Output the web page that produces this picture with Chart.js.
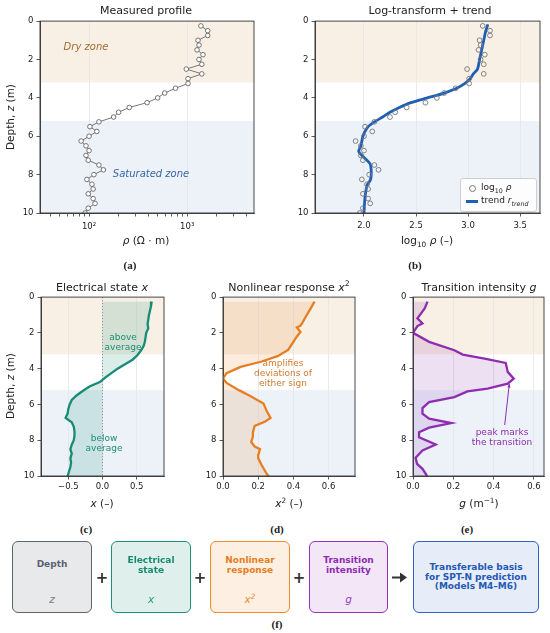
<!DOCTYPE html>
<html>
<head>
<meta charset="utf-8">
<script src="https://cdn.jsdelivr.net/npm/chart.js@4"></script>
<style>
html, body { margin: 0; padding: 0; background: #fff; overflow: hidden; }
#fig { position: relative; width: 550px; height: 633px; font-family: 'DejaVu Sans', sans-serif; color: #222; }
canvas { position: absolute; }
.t { position: absolute; transform: translate(-50%, -50%); white-space: nowrap; text-align: center; }
.title { font-size: 11px; }
.ax { font-size: 10.5px; }
.rot { transform: translate(-50%, -50%) rotate(-90deg); }
.sub { font-family: 'Liberation Serif', serif; font-weight: bold; font-size: 11px; }
.note { font-size: 9px; line-height: 10px; }
sub, sup { font-size: 70%; line-height: 0; }
.box { position: absolute; top: 541px; height: 72px; box-sizing: border-box; border: 1.5px solid; border-radius: 6px; }
.box .lbl { position: absolute; left: 0; right: 0; top: 23px; transform: translateY(-50%); text-align: center; font-weight: bold; font-size: 9px; line-height: 9.5px; }
.box .sym { position: absolute; left: 0; right: 0; top: 57px; transform: translateY(-50%); text-align: center; font-style: italic; font-size: 10.5px; }
.plus { position: absolute; transform: translate(-50%, -50%); font-weight: bold; font-size: 15px; color: #333; }
#legB { position: absolute; left: 460px; top: 178px; width: 77px; height: 34px; box-sizing: border-box; border: 1px solid #cfcfcf; border-radius: 3px; background: rgba(255,255,255,0.85); font-size: 9px; }
</style>
</head>
<body>
<div id="fig">
  <canvas id="cA" width="252" height="222" style="left:10px;top:13px"></canvas>
  <canvas id="cB" width="263" height="222" style="left:285px;top:13px"></canvas>
  <canvas id="cC" width="161" height="209" style="left:11px;top:289px"></canvas>
  <canvas id="cD" width="170" height="209" style="left:193px;top:289px"></canvas>
  <canvas id="cE" width="169" height="209" style="left:383px;top:289px"></canvas>

  <div class="t title" style="left:146px;top:10px">Measured profile</div>
  <div class="t title" style="left:430px;top:10px">Log-transform + trend</div>
  <div class="t title" style="left:102px;top:287px">Electrical state <i>x</i></div>
  <div class="t title" style="left:289px;top:287px">Nonlinear response <i>x</i><sup>2</sup></div>
  <div class="t title" style="left:479px;top:287px">Transition intensity <i>g</i></div>

  <div class="t ax" style="left:146px;top:240px"><i>ρ</i> (Ω · m)</div>
  <div class="t ax" style="left:427px;top:240px">log<sub>10</sub> <i>ρ</i> (–)</div>
  <div class="t ax" style="left:102px;top:503px"><i>x</i> (–)</div>
  <div class="t ax" style="left:289px;top:503px"><i>x</i><sup>2</sup> (–)</div>
  <div class="t ax" style="left:479px;top:503px"><i>g</i> (m<sup>−1</sup>)</div>
  <div class="t ax rot" style="left:10px;top:117px">Depth, <i>z</i> (m)</div>
  <div class="t ax rot" style="left:10px;top:386px">Depth, <i>z</i> (m)</div>

  <div class="t sub" style="left:130px;top:265px">(a)</div>
  <div class="t sub" style="left:415px;top:265px">(b)</div>
  <div class="t sub" style="left:86px;top:529px">(c)</div>
  <div class="t sub" style="left:277px;top:529px">(d)</div>
  <div class="t sub" style="left:467px;top:529px">(e)</div>
  <div class="t sub" style="left:277px;top:624px">(f)</div>

  <div class="t" style="left:86px;top:46px;font-size:10px;font-style:italic;color:#a26b2c">Dry zone</div>
  <div class="t" style="left:151px;top:173px;font-size:10px;font-style:italic;color:#3766a6">Saturated zone</div>
  <div class="t note" style="left:123px;top:342px;color:#1a8f78">above<br>average</div>
  <div class="t note" style="left:104px;top:443px;color:#1a8f78">below<br>average</div>
  <div class="t note" style="left:283px;top:373px;color:#d07a2c">amplifies<br>deviations of<br>either sign</div>
  <div class="t note" style="left:502px;top:437px;color:#8e2db0">peak marks<br>the transition</div>

  <div id="legB">
    <div style="position:absolute;left:8px;top:6px;width:5px;height:5px;border:1px solid #777;border-radius:50%"></div>
    <div style="position:absolute;left:20px;top:3px">log<sub>10</sub> <i>ρ</i></div>
    <div style="position:absolute;left:5px;top:21px;width:12px;height:3px;background:#1f5fb5"></div>
    <div style="position:absolute;left:20px;top:16px">trend <i>r<sub>trend</sub></i></div>
  </div>

  <div class="box" style="left:12px;width:80px;border-color:#5d646d;background:#e8e9eb">
    <div class="lbl" style="color:#5a6270">Depth</div>
    <div class="sym" style="color:#7a808a">z</div>
  </div>
  <div class="plus" style="left:102px;top:578px">+</div>
  <div class="box" style="left:111px;width:80px;border-color:#1b9078;background:#dff0ec">
    <div class="lbl" style="color:#178a72">Electrical<br>state</div>
    <div class="sym" style="color:#2a9a82">x</div>
  </div>
  <div class="plus" style="left:200px;top:578px">+</div>
  <div class="box" style="left:210px;width:80px;border-color:#ef8b2c;background:#fdf0e3">
    <div class="lbl" style="color:#e67e22">Nonlinear<br>response</div>
    <div class="sym" style="color:#ef8b2c">x<sup>2</sup></div>
  </div>
  <div class="plus" style="left:299px;top:578px">+</div>
  <div class="box" style="left:309px;width:79px;border-color:#9234b8;background:#f2e6f7">
    <div class="lbl" style="color:#8e2db0">Transition<br>intensity</div>
    <div class="sym" style="color:#9a45bd">g</div>
  </div>
  <svg style="position:absolute;left:392px;top:571px" width="16" height="13">
    <line x1="0" y1="6.5" x2="9" y2="6.5" stroke="#333" stroke-width="2"/>
    <polygon points="8,1.5 15,6.5 8,11.5" fill="#333"/>
  </svg>
  <div class="box" style="left:413px;width:126px;border-color:#2c62c0;background:#e6edf8">
    <div class="lbl" style="top:35px;color:#2459b5">Transferable basis<br>for SPT-N prediction<br>(Models M4–M6)</div>
  </div>
</div>

<script>
// measured profile, every 0.25 m
const depthPts = [0.25, 0.5, 0.75, 1, 1.25, 1.5, 1.75, 2, 2.25, 2.5, 2.75, 3, 3.25, 3.5, 3.75, 4, 4.25, 4.5, 4.75, 5,
                  5.25, 5.5, 5.75, 6, 6.25, 6.5, 6.75, 7, 7.25, 7.5, 7.75, 8, 8.25, 8.5, 8.75, 9, 9.25, 9.5, 9.75, 10];
const rhoMeas = [1380, 1620, 1620, 1290, 1320, 1260, 1450, 1320, 1410, 980, 1410, 1020, 1020, 760, 590, 500, 390, 257, 200, 178,
                 126, 102, 120, 100, 83, 93, 100, 93, 98, 126, 140, 112, 95, 107, 110, 98, 110, 115, 98, 91];
const logRho = [3.14, 3.21, 3.21, 3.11, 3.12, 3.10, 3.16, 3.12, 3.15, 2.99, 3.15, 3.01, 3.01, 2.88, 2.77, 2.70, 2.59, 2.41, 2.30, 2.25,
                2.10, 2.01, 2.08, 2.00, 1.92, 1.97, 2.00, 1.97, 1.99, 2.10, 2.14, 2.05, 1.98, 2.03, 2.04, 1.99, 2.04, 2.06, 1.99, 1.96];

// smoothed trend
const depthTrend = [0.17, 0.5, 1, 1.5, 2, 2.5, 2.75, 3, 3.25, 3.5, 3.75, 4, 4.25, 4.5, 4.75, 5, 5.25, 5.5, 5.75, 6,
                    6.5, 6.8, 7.1, 7.45, 8, 8.3, 8.55, 9.2, 10];
const trendLog = [3.19, 3.17, 3.15, 3.13, 3.11, 3.09, 3.05, 3.02, 2.97, 2.89, 2.77, 2.61, 2.45, 2.34, 2.25, 2.18, 2.10, 2.04, 2.01, 1.99,
                  1.97, 1.95, 2.00, 2.06, 2.07, 2.06, 2.03, 2.01, 2.00];

// electrical state x
const depthX = [0.25, 0.5, 1, 1.5, 1.75, 2, 2.5, 2.75, 3, 3.25, 3.5, 3.75, 4, 4.25, 4.5, 4.75, 5, 5.25, 5.5, 5.75,
                6, 6.25, 6.5, 6.75, 7, 7.25, 7.5, 7.75, 8, 8.25, 8.5, 8.75, 9, 9.25, 9.5, 9.75, 10];
const xState = [0.72, 0.71, 0.68, 0.66, 0.67, 0.64, 0.62, 0.60, 0.56, 0.51, 0.44, 0.33, 0.22, 0.13, 0.04, -0.04, -0.19, -0.29, -0.38, -0.45,
                -0.48, -0.50, -0.51, -0.54, -0.45, -0.42, -0.41, -0.41, -0.42, -0.45, -0.47, -0.45, -0.47, -0.46, -0.47, -0.49, -0.51];

// nonlinear response x^2
const depthSq = [0.25, 0.6, 1.1, 1.45, 1.6, 1.7, 1.95, 2.2, 2.5, 2.95, 3.3, 3.6, 3.9, 4.25, 4.55, 4.8, 5.2, 5.55, 5.95, 6.4,
                 6.75, 6.95, 7.2, 7.55, 7.8, 8.1, 8.35, 8.5, 8.85, 9.0, 9.4, 9.9, 10];
const xSq = [0.52, 0.50, 0.47, 0.45, 0.44, 0.42, 0.44, 0.42, 0.40, 0.37, 0.31, 0.22, 0.10, 0.02, 0.00, 0.02, 0.09, 0.16, 0.23, 0.25,
             0.27, 0.24, 0.18, 0.17, 0.17, 0.16, 0.18, 0.21, 0.20, 0.20, 0.22, 0.25, 0.26];

// transition intensity g
const depthG = [0.25, 0.63, 1.19, 1.47, 1.62, 2.0, 2.5, 2.97, 3.21, 3.44, 3.68, 4.18, 4.56, 4.84, 5.12, 5.27, 5.59, 5.87, 6.2, 6.52,
                6.8, 7.04, 7.3, 7.55, 7.83, 8.24, 8.57, 8.98, 9.32, 9.6, 10];
const gVals = [0.072, 0.058, 0.022, 0.047, 0.022, 0.0, 0.08, 0.205, 0.247, 0.355, 0.46, 0.47, 0.50, 0.47, 0.37, 0.27, 0.205, 0.08, 0.047, 0.047,
               0.08, 0.19, 0.08, 0.03, 0.03, 0.113, 0.047, 0.013, 0.02, 0.047, 0.07];

// zones (depth, m)
const dryZoneEnd = 3.2;
const satZoneStart = 5.2;

// ticks
const yTicks = [0, 2, 4, 6, 8, 10];
const yTickLabels = ['0', '2', '4', '6', '8', '10'];
const rhoMajor = [100, 1000];
const rhoMajorLabels = ['10²', '10³'];
const rhoMinor = [40, 50, 60, 70, 80, 90, 200, 300, 400, 500, 600, 700, 800, 900, 2000, 3000, 4000];
const logTicks = [2.0, 2.5, 3.0, 3.5];
const logTickLabels = ['2.0', '2.5', '3.0', '3.5'];
const xTicksC = [-0.5, 0, 0.5];
const xTickLabelsC = ['−0.5', '0.0', '0.5'];
const sqTicks = [0, 0.2, 0.4, 0.6];
const sqTickLabels = ['0.0', '0.2', '0.4', '0.6'];
const gTicks = [0, 0.2, 0.4, 0.6];
const gTickLabels = ['0.0', '0.2', '0.4', '0.6'];

Chart.defaults.font.family = "'DejaVu Sans', sans-serif";

const pts = (vals, depths) => depths.map((d, i) => ({ x: vals[i], y: d }));

const deco = {
  id: 'deco',
  beforeDraw(chart) {
    const { ctx, chartArea: a, scales: { y } } = chart;
    const yd = y.getPixelForValue(dryZoneEnd), ys = y.getPixelForValue(satZoneStart);
    ctx.save();
    ctx.fillStyle = '#f8f0e5';
    ctx.fillRect(a.left, a.top, a.width, yd - a.top);
    ctx.fillStyle = '#edf2f9';
    ctx.fillRect(a.left, ys, a.width, a.bottom - ys);
    ctx.restore();
  },
  beforeDatasetsDraw(chart, args, opts) {
    if (!opts.zeroLine) return;
    const { ctx, chartArea: a, scales: { x } } = chart;
    const px = x.getPixelForValue(0);
    ctx.save();
    ctx.strokeStyle = '#888';
    ctx.lineWidth = 0.9;
    ctx.setLineDash([1, 2]);
    ctx.beginPath();
    ctx.moveTo(px, a.top);
    ctx.lineTo(px, a.bottom);
    ctx.stroke();
    ctx.restore();
  },
  afterDatasetsDraw(chart, args, opts) {
    if (!opts.arrow) return;
    const { ctx, scales: { x, y } } = chart;
    const x0 = x.getPixelForValue(opts.arrow.from[0]), y0 = y.getPixelForValue(opts.arrow.from[1]);
    const x1 = x.getPixelForValue(opts.arrow.to[0]), y1 = y.getPixelForValue(opts.arrow.to[1]);
    const ang = Math.atan2(y1 - y0, x1 - x0);
    ctx.save();
    ctx.strokeStyle = opts.arrow.color;
    ctx.fillStyle = opts.arrow.color;
    ctx.lineWidth = 1;
    ctx.beginPath();
    ctx.moveTo(x0, y0);
    ctx.lineTo(x1, y1);
    ctx.stroke();
    ctx.beginPath();
    ctx.moveTo(x1, y1);
    ctx.lineTo(x1 - 4 * Math.cos(ang - 0.4), y1 - 4 * Math.sin(ang - 0.4));
    ctx.lineTo(x1 - 4 * Math.cos(ang + 0.4), y1 - 4 * Math.sin(ang + 0.4));
    ctx.closePath();
    ctx.fill();
    ctx.restore();
  },
  afterDraw(chart) {
    const { ctx, chartArea: a } = chart;
    ctx.save();
    ctx.strokeStyle = '#333';
    ctx.lineWidth = 0.9;
    ctx.strokeRect(a.left, a.top, a.width, a.height);
    ctx.restore();
  }
};

function makePanel(id, o) {
  return new Chart(document.getElementById(id), {
    type: 'line',
    data: { datasets: o.datasets },
    options: {
      indexAxis: 'y',
      responsive: false,
      animation: false,
      events: [],
      layout: { padding: { top: 8, right: 8, left: 0, bottom: 0 } },
      plugins: { legend: { display: false }, tooltip: { enabled: false }, deco: o.deco || {} },
      scales: {
        x: {
          type: o.xType || 'linear',
          min: o.xMin,
          max: o.xMax,
          afterBuildTicks: s => { s.ticks = o.xTicks.map(v => ({ value: v })); },
          afterFit: s => { s.height = 22; },
          grid: {
            color: c => (c.tick && o.gridAt.includes(c.tick.value)) ? '#e4e4e4' : 'rgba(0,0,0,0)',
            lineWidth: 0.8,
            tickLength: 3.5,
            tickColor: '#333',
            tickWidth: 0.8
          },
          border: { color: '#333', width: 0.9 },
          ticks: {
            autoSkip: false, maxRotation: 0, padding: o.xPad, color: '#222', font: { size: 8.5 },
            callback: (v, i) => o.xLabels[i]
          }
        },
        y: {
          type: 'linear',
          reverse: true,
          min: 0,
          max: 10,
          afterBuildTicks: s => { s.ticks = yTicks.map(v => ({ value: v })); },
          afterFit: s => { s.width = 30; },
          grid: { drawOnChartArea: false, tickLength: 3.5, tickColor: '#333', tickWidth: 0.8 },
          border: { color: '#333', width: 0.9 },
          ticks: { autoSkip: false, padding: 3, color: '#222', font: { size: 8.5 }, callback: (v, i) => yTickLabels[i] }
        }
      }
    },
    plugins: [deco]
  });
}

// (a) measured profile, log axis
const rhoTicks = rhoMinor.concat(rhoMajor).sort((p, q) => p - q);
makePanel('cA', {
  xType: 'logarithmic', xMin: 31.6, xMax: 4800,
  xTicks: rhoTicks,
  xLabels: rhoTicks.map(v => { const k = rhoMajor.indexOf(v); return k >= 0 ? rhoMajorLabels[k] : ''; }),
  gridAt: rhoMajor, xPad: 5,
  datasets: [{
    data: pts(rhoMeas, depthPts),
    borderColor: '#777', borderWidth: 1,
    pointRadius: 2.3, pointBorderWidth: 0.9, pointBorderColor: '#666', pointBackgroundColor: '#fff'
  }]
});

// (b) log-transform + trend
makePanel('cB', {
  xMin: 1.53, xMax: 3.69,
  xTicks: logTicks, xLabels: logTickLabels, gridAt: logTicks, xPad: 4,
  datasets: [{
    data: pts(logRho, depthPts),
    showLine: false,
    pointRadius: 2.4, pointBorderWidth: 0.9, pointBorderColor: '#777', pointBackgroundColor: 'rgba(255,255,255,0)'
  }, {
    data: pts(trendLog, depthTrend),
    borderColor: '#1f5fb5', borderWidth: 2.8, pointRadius: 0, tension: 0.3
  }]
});

// (c) electrical state x
makePanel('cC', {
  xMin: -0.9, xMax: 0.9,
  xTicks: xTicksC, xLabels: xTickLabelsC, gridAt: xTicksC, xPad: 2.5,
  deco: { zeroLine: true },
  datasets: [{
    data: pts(xState, depthX),
    borderColor: '#168c74', borderWidth: 2.3, pointRadius: 0,
    fill: { value: 0 }, backgroundColor: 'rgba(22,140,116,0.16)'
  }]
});

// (d) nonlinear response x^2
makePanel('cD', {
  xMin: 0, xMax: 0.75,
  xTicks: sqTicks, xLabels: sqTickLabels, gridAt: sqTicks, xPad: 2.5,
  datasets: [{
    data: pts(xSq, depthSq),
    borderColor: '#e67e22', borderWidth: 2.3, pointRadius: 0,
    fill: 'origin', backgroundColor: 'rgba(230,126,34,0.15)'
  }]
});

// (e) transition intensity g
makePanel('cE', {
  xMin: 0, xMax: 0.65,
  xTicks: gTicks, xLabels: gTickLabels, gridAt: gTicks, xPad: 2.5,
  deco: { arrow: { from: [0.455, 7.15], to: [0.478, 4.85], color: '#8e2db0' } },
  datasets: [{
    data: pts(gVals, depthG),
    borderColor: '#8e2db0', borderWidth: 2.3, pointRadius: 0,
    fill: 'origin', backgroundColor: 'rgba(142,45,176,0.15)'
  }]
});
</script>
</body>
</html>
